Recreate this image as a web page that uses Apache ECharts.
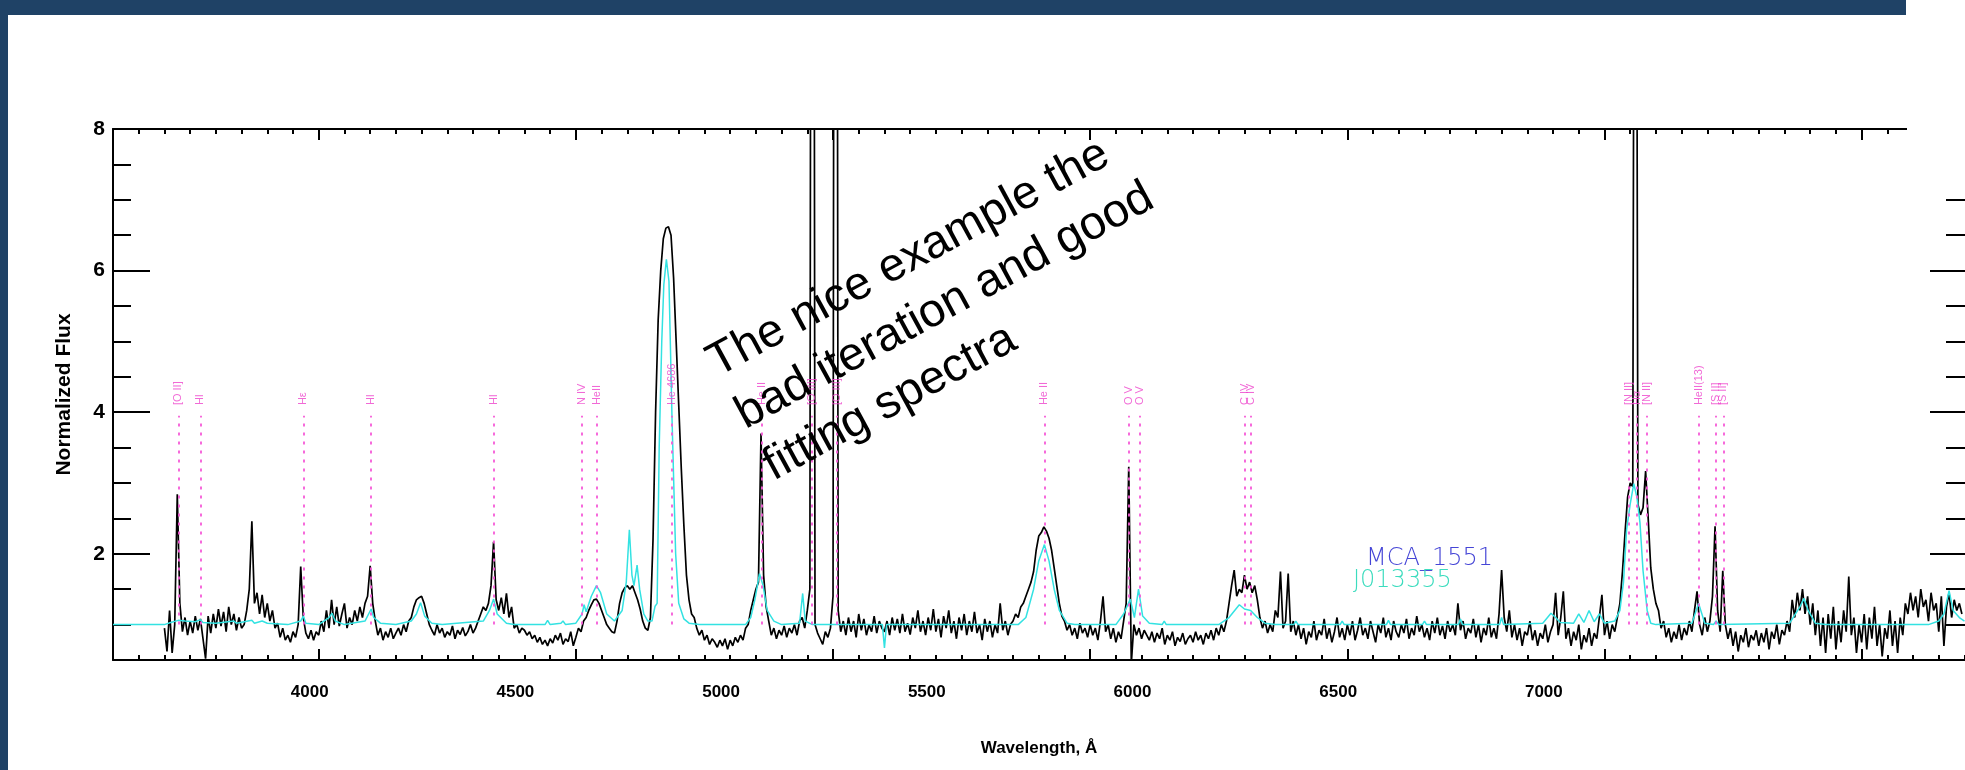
<!DOCTYPE html>
<html>
<head>
<meta charset="utf-8">
<script src="https://cdn.jsdelivr.net/npm/echarts@6.0.0/dist/echarts.min.js"></script>
<style>
  html, body { margin: 0; padding: 0; background: #fff; }
  #chart { width: 1965px; height: 770px; }
</style>
</head>
<body>
<div id="chart"></div>
<script>
// observed spectrum, 5 A steps, one row per 100 A starting at 3700
var obsStart = 3700, obsRowSpan = 100, obsStep = 5;
var obsFluxRows = [
  [0.95,0.62,1.2,0.6,1.0,2.84,1.3,0.9,1.1,0.85,1.05,0.88,1.12,0.92,1.08,0.8,0.52,1.12,0.88,1.15],
  [0.95,1.22,0.98,1.18,0.9,1.25,1.0,1.15,0.92,1.1,0.95,1.0,1.2,1.5,2.46,1.3,1.45,1.15,1.42,1.1],
  [1.3,1.05,1.2,0.95,1.02,0.82,0.95,0.78,0.85,0.75,0.9,0.82,1.0,1.82,1.1,0.88,0.8,0.92,0.78,0.9],
  [0.85,1.05,0.9,1.2,0.95,1.35,1.0,1.25,0.98,1.15,1.3,0.95,1.1,1.0,1.2,1.05,1.25,1.1,1.3,1.4],
  [1.83,1.3,1.05,0.85,0.95,0.78,0.9,0.82,0.95,0.8,0.88,0.95,0.85,1.0,0.9,1.05,1.1,1.25,1.35,1.38],
  [1.4,1.3,1.15,1.0,0.92,0.85,1.0,0.88,0.95,0.82,0.9,0.85,0.98,0.8,0.92,0.86,0.96,0.84,0.9,1.0],
  [0.88,0.95,1.05,1.15,1.25,1.2,1.3,1.55,2.17,1.35,1.2,1.38,1.15,1.44,1.1,1.25,0.95,1.0,0.88,0.95],
  [0.92,0.85,0.9,0.8,0.85,0.75,0.82,0.72,0.78,0.7,0.8,0.74,0.85,0.78,0.88,0.72,0.8,0.76,0.9,0.7],
  [0.82,0.95,0.9,1.05,1.1,1.2,1.28,1.35,1.36,1.3,1.2,1.1,1.0,0.95,0.9,0.88,1.05,1.3,1.45,1.52],
  [1.55,1.5,1.55,1.45,1.35,1.22,1.05,0.95,0.92,1.1,2.2,4.0,5.3,6.0,6.45,6.6,6.62,6.5,5.9,5.0],
  [4.1,3.2,2.4,1.7,1.35,1.15,1.1,0.95,0.85,0.92,0.78,0.85,0.72,0.8,0.75,0.68,0.78,0.7,0.8,0.65],
  [0.78,0.7,0.82,0.75,0.85,0.78,0.95,1.0,1.2,1.35,1.5,1.6,3.7,1.7,1.25,1.05,0.85,0.95,0.8,0.92],
  [0.85,0.98,0.82,0.95,0.88,1.0,0.85,1.05,1.1,0.95,1.2,1.5,30,1.0,0.88,0.8,0.72,0.9,0.82,0.95],
  [1.4,30,1.2,0.9,1.05,0.85,1.1,0.9,1.05,0.82,1.15,0.92,1.08,0.85,1.0,0.9,1.12,0.88,1.05,0.95],
  [0.9,1.05,0.85,1.1,0.92,1.08,0.88,1.15,0.9,1.02,0.86,1.1,0.95,1.2,0.9,1.05,0.85,1.1,0.92,1.22],
  [0.9,1.08,0.82,1.12,0.95,1.2,0.88,1.05,0.8,1.1,0.92,1.15,0.85,1.05,0.9,1.18,0.88,1.0,0.78,1.08],
  [0.9,1.05,0.82,1.0,0.88,1.3,0.92,1.05,0.85,1.0,1.05,1.15,1.1,1.25,1.3,1.4,1.5,1.6,1.75,2.05],
  [2.25,2.3,2.38,2.32,2.22,2.05,1.8,1.55,1.3,1.12,1.05,0.92,1.0,0.85,0.95,0.8,1.02,0.88,0.95,0.82],
  [1.0,0.85,0.95,0.78,1.05,1.4,0.9,1.0,0.8,0.95,0.75,0.9,0.8,1.05,1.3,3.23,0.45,1.0,0.85,0.95],
  [0.8,0.92,0.85,0.78,0.9,0.75,0.88,0.8,0.95,0.72,0.85,0.78,0.9,0.7,0.82,0.76,0.88,0.72,0.8,0.85],
  [0.75,0.9,0.78,0.85,0.72,0.88,0.8,0.92,0.78,0.95,0.85,1.0,0.9,1.05,1.3,1.55,1.77,1.4,1.5,1.45],
  [1.7,1.5,1.6,1.45,1.55,1.35,1.1,0.95,1.05,0.88,1.0,0.9,1.2,1.1,1.75,0.95,1.05,1.72,0.9,1.05],
  [0.85,1.0,0.8,0.95,0.72,0.9,0.82,1.05,0.78,0.92,0.85,1.08,0.8,0.95,0.75,0.9,1.1,0.82,0.95,0.78],
  [1.0,0.85,1.05,0.78,0.92,1.1,0.85,0.95,0.8,1.05,0.9,0.75,1.0,0.88,1.1,0.82,0.95,0.78,1.05,0.9],
  [0.82,1.0,0.88,1.08,0.8,0.95,0.85,1.12,0.9,1.0,0.82,0.95,0.78,1.05,0.88,1.1,0.85,0.98,0.8,1.05],
  [0.9,1.0,0.85,1.3,0.92,1.05,0.8,0.95,0.88,1.08,0.82,1.0,0.75,0.95,0.85,1.1,0.82,0.95,0.8,1.15],
  [1.77,1.1,0.9,1.2,0.82,1.0,0.78,0.95,0.7,0.9,0.85,1.05,0.78,0.92,0.7,0.88,0.8,1.0,0.75,0.9],
  [1.0,1.45,0.85,1.1,1.47,0.8,0.95,0.7,0.9,0.78,1.0,0.65,0.85,0.75,0.95,0.7,0.88,0.8,1.1,1.42],
  [0.85,1.05,0.8,1.0,0.9,1.1,1.3,1.75,2.3,2.8,3.0,2.95,20,2.7,2.55,2.65,3.17,2.5,1.8,1.5],
  [1.3,1.2,0.95,1.05,0.82,0.95,0.75,0.9,0.8,1.0,0.78,0.95,0.85,1.05,0.9,1.2,1.47,1.0,0.85,1.1],
  [0.9,1.05,1.4,2.39,1.2,0.9,1.76,1.0,0.8,0.95,0.7,0.9,0.62,0.85,0.75,0.95,0.68,0.85,0.78,0.92],
  [0.7,0.88,0.75,0.95,0.65,0.9,0.8,1.0,0.72,0.92,0.85,1.05,0.9,1.35,1.1,1.45,1.2,1.5,1.15,1.4],
  [1.0,1.3,0.85,1.2,0.7,1.1,0.6,1.15,0.8,1.25,0.65,1.05,0.75,1.2,0.9,1.68,0.85,1.1,0.6,1.0],
  [0.75,1.15,0.65,1.1,0.8,1.25,0.7,1.0,0.55,0.95,0.8,1.2,0.7,1.05,0.6,1.1,0.85,1.3,1.15,1.45],
  [1.2,1.4,1.1,1.5,1.25,1.35,1.05,1.45,1.2,1.3,0.9,1.4,0.7,1.25,1.45,1.1,1.35,1.2,1.3,1.15]
];

// fitted model (cyan), wavelength / flux breakpoints
var modelSpectrum = [
  [3600,1.0],[3700,1.0],[3712,1.03],[3727,1.06],[3740,1.05],[3760,1.04],[3770,1.07],[3775,1.03],
  [3800,1.02],[3835,1.05],[3840,1.02],[3870,1.06],[3875,1.02],[3890,1.05],[3900,1.02],[3940,1.0],
  [3965,1.05],[3970,1.12],[3975,1.02],[4000,1.0],[4020,1.1],[4026,1.16],[4032,1.05],[4050,1.0],
  [4090,1.05],[4097,1.15],[4102,1.22],[4107,1.1],[4120,1.02],[4150,1.0],[4180,1.05],[4190,1.15],
  [4198,1.31],[4206,1.12],[4220,1.02],[4240,1.0],[4320,1.05],[4332,1.2],[4340,1.36],[4347,1.15],
  [4365,1.02],[4380,1.0],[4440,1.0],[4445,1.06],[4450,1.0],[4471,1.02],[4475,1.05],[4480,1.0],
  [4500,1.02],[4512,1.15],[4516,1.28],[4520,1.18],[4530,1.4],[4540,1.55],[4548,1.45],[4560,1.15],
  [4575,1.05],[4590,1.2],[4598,1.6],[4604,2.34],[4609,1.7],[4613,1.55],[4619,1.84],[4624,1.5],
  [4632,1.15],[4640,1.05],[4648,1.05],[4654,1.26],[4658,1.3],[4662,3.5],[4667,5.0],[4671,5.8],
  [4676,6.16],[4681,5.85],[4687,3.9],[4694,2.0],[4700,1.3],[4710,1.08],[4720,1.02],[4740,1.0],
  [4830,1.0],[4840,1.1],[4848,1.35],[4857,1.72],[4864,1.55],[4872,1.2],[4885,1.05],[4900,1.0],
  [4935,1.02],[4941,1.44],[4946,1.05],[4960,1.0],[5096,1.0],[5100,0.67],[5104,1.0],[5200,1.0],
  [5360,1.0],[5375,1.1],[5390,1.5],[5400,1.9],[5411,2.13],[5420,1.9],[5430,1.5],[5440,1.2],
  [5455,1.02],[5470,1.0],[5550,1.0],[5565,1.15],[5578,1.36],[5586,1.1],[5594,1.5],[5602,1.12],
  [5615,1.02],[5640,1.0],[5644,1.05],[5648,1.0],[5750,1.0],[5770,1.1],[5790,1.28],[5800,1.22],
  [5812,1.2],[5825,1.1],[5840,1.02],[5860,1.0],[5896,1.0],[5900,1.05],[5904,1.0],[5986,1.0],
  [5990,1.05],[5994,1.0],[6076,1.0],[6080,1.06],[6084,1.0],[6146,1.0],[6150,1.05],[6154,1.0],
  [6216,1.0],[6220,1.08],[6224,1.0],[6296,1.0],[6300,1.1],[6304,1.0],[6380,1.02],[6396,1.16],
  [6405,1.1],[6414,1.03],[6440,1.02],[6450,1.15],[6460,1.03],[6470,1.2],[6480,1.04],[6490,1.15],
  [6500,1.02],[6520,1.05],[6530,1.2],[6537,1.6],[6543,2.34],[6550,2.7],[6557,2.99],[6563,2.8],
  [6569,2.44],[6575,1.76],[6583,1.2],[6590,1.02],[6600,1.0],[6670,1.02],[6683,1.3],[6695,1.02],
  [6712,1.0],[6717,1.05],[6722,1.0],[6860,1.02],[6880,1.25],[6888,1.37],[6896,1.2],[6910,1.02],
  [6930,1.0],[7130,1.0],[7150,1.05],[7160,1.15],[7170,1.48],[7178,1.2],[7190,1.1],[7200,1.05]
];

// identified lines
var lineWave = [3727, 3770, 3970, 4102, 4340, 4512, 4541, 4686, 4861, 4959, 5007, 5411, 5575, 5597,
  5801, 5812, 6548, 6563, 6583, 6683, 6717, 6731];
var lineName = ['[O II]', 'HI', 'H\u03b5', 'HI', 'HI', 'N IV', 'HeII', 'He 4686', 'He II', '[O III]', '[O III]',
  'He II', 'O V', 'O V', 'C IV', 'C IV', '[N II]', 'H\u03b1', '[N II]', 'HeII(13)', '[S II]', '[S II]'];

var xMajorTicks = [4000, 4500, 5000, 5500, 6000, 6500, 7000];
var xTickLabels = [4000, 4500, 5000, 5500, 6000, 6500, 7000];
var yMajorTicks = [2, 4, 6, 8];
var yMinorTicks = [1, 1.5, 2.5, 3, 3.5, 4.5, 5, 5.5, 6.5, 7, 7.5];

var xMin = 3600, xMax = 7201;

var xMinorTicks = [];
for (var t = 3650; t < xMax; t += 50) {
  if (xMajorTicks.indexOf(t) < 0) xMinorTicks.push(t);
}

var obsData = [];
obsFluxRows.forEach(function (row, r) {
  row.forEach(function (f, j) {
    obsData.push([obsStart + r * obsRowSpan + j * obsStep, f]);
  });
});

var markerData = lineWave.map(function (w) { return [w, 4.1]; });
var markerLines = lineWave.map(function (w) {
  return [{ coord: [w, 1.0] }, { coord: [w, 3.95] }];
});

var chart = echarts.init(document.getElementById('chart'));

var black = '#000';
var tickStyle = { color: black, width: 2 };

function xAx(pos, ticks, len, showLine) {
  return {
    type: 'value', position: pos, min: xMin, max: xMax,
    axisLine: { show: showLine, onZero: false, lineStyle: { color: black, width: 2 } },
    axisTick: { show: true, inside: true, length: len, customValues: ticks, lineStyle: tickStyle },
    axisLabel: { show: false },
    splitLine: { show: false }
  };
}
function yAx(pos, ticks, len, showLine) {
  return {
    type: 'value', position: pos, min: 0.5, max: 8,
    axisLine: { show: showLine, onZero: false, lineStyle: { color: black, width: 2 } },
    axisTick: { show: true, inside: true, length: len, customValues: ticks, lineStyle: tickStyle },
    axisLabel: { show: false },
    splitLine: { show: false }
  };
}

var yMain = yAx('left', yMajorTicks, 37, true);
yMain.axisLabel = {
  show: true, customValues: yMajorTicks, margin: 8,
  color: black, fontWeight: 'bold', fontSize: 21, fontFamily: 'Liberation Sans'
};
yMain.name = 'Normalized Flux';
yMain.nameLocation = 'middle';
yMain.nameGap = 38;
yMain.nameTextStyle = { color: black, fontWeight: 'bold', fontSize: 21, fontFamily: 'Liberation Sans' };

chart.setOption({
  animation: false,
  backgroundColor: '#fff',
  grid: { left: 113, top: 129, width: 1862, height: 531, containLabel: false },
  xAxis: [
    xAx('bottom', xMajorTicks, 11, true),
    xAx('bottom', xMinorTicks, 5, false),
    xAx('top', xMajorTicks, 11, true),
    xAx('top', xMinorTicks, 5, false),
    {
      type: 'value', position: 'bottom', min: 3521.8, max: 8023.7,
      axisLine: { show: false }, axisTick: { show: false }, splitLine: { show: false },
      axisLabel: {
        show: true, customValues: xTickLabels, margin: 24,
        formatter: function (v) { return String(v); },
        color: black, fontWeight: 'bold', fontSize: 17, fontFamily: 'Liberation Sans'
      },
      name: 'Wavelength, \u00c5', nameLocation: 'middle', nameGap: 80,
      nameTextStyle: { color: black, fontWeight: 'bold', fontSize: 17, fontFamily: 'Liberation Sans' }
    }
  ],
  yAxis: [
    yMain,
    yAx('left', yMinorTicks, 18, false),
    yAx('right', yMajorTicks, 35, false),
    yAx('right', yMinorTicks, 19, false)
  ],
  series: [
    {
      name: 'MCA_1551', type: 'line', data: obsData, showSymbol: false, symbol: 'none',
      lineStyle: { color: black, width: 1.7 }, z: 2, clip: true
    },
    {
      name: 'J013355', type: 'line', data: modelSpectrum, showSymbol: false, symbol: 'none',
      lineStyle: { color: '#33e2e2', width: 1.5 }, z: 3, clip: true
    },
    {
      name: 'lines', type: 'scatter', data: markerData, symbolSize: 0, z: 4,
      label: {
        show: true, position: 'inside', rotate: 90, align: 'left', verticalAlign: 'middle',
        formatter: function (p) { return lineName[p.dataIndex]; },
        color: '#ee44cc', fontSize: 11, fontFamily: 'Liberation Sans'
      },
      markLine: {
        silent: true, symbol: 'none', label: { show: false },
        lineStyle: { color: '#f55ad8', width: 1.8, type: [3, 6] },
        data: markerLines
      }
    }
  ],
  graphic: [
    { type: 'rect', z: 100, shape: { x: 0, y: 0, width: 1906, height: 15 }, style: { fill: '#1f4266' } },
    { type: 'rect', z: 100, shape: { x: 0, y: 0, width: 8, height: 770 }, style: { fill: '#1f4266' } },
    { type: 'rect', z: 100, shape: { x: 1907, y: 0, width: 60, height: 183 }, style: { fill: '#fff' } },
    {
      type: 'text', z: 101, x: 697, y: 340, rotation: 28.5 * Math.PI / 180,
      style: {
        text: 'The nice example the\nbad iteration and good\nfitting spectra',
        fontSize: 47, fontFamily: 'Liberation Sans', lineHeight: 59,
        fill: '#000', align: 'left', verticalAlign: 'top'
      }
    },
    {
      type: 'text', z: 101, x: 1366, y: 559,
      style: { text: 'MCA_1551', fontSize: 24, fontFamily: 'DejaVu Sans', fontWeight: 300,
        fill: '#4545d6', align: 'left', verticalAlign: 'middle' }
    },
    {
      type: 'text', z: 101, x: 1353, y: 581,
      style: { text: 'J013355', fontSize: 24, fontFamily: 'DejaVu Sans', fontWeight: 300,
        fill: '#3cdcbe', align: 'left', verticalAlign: 'middle' }
    }
  ]
});
</script>
</body>
</html>
